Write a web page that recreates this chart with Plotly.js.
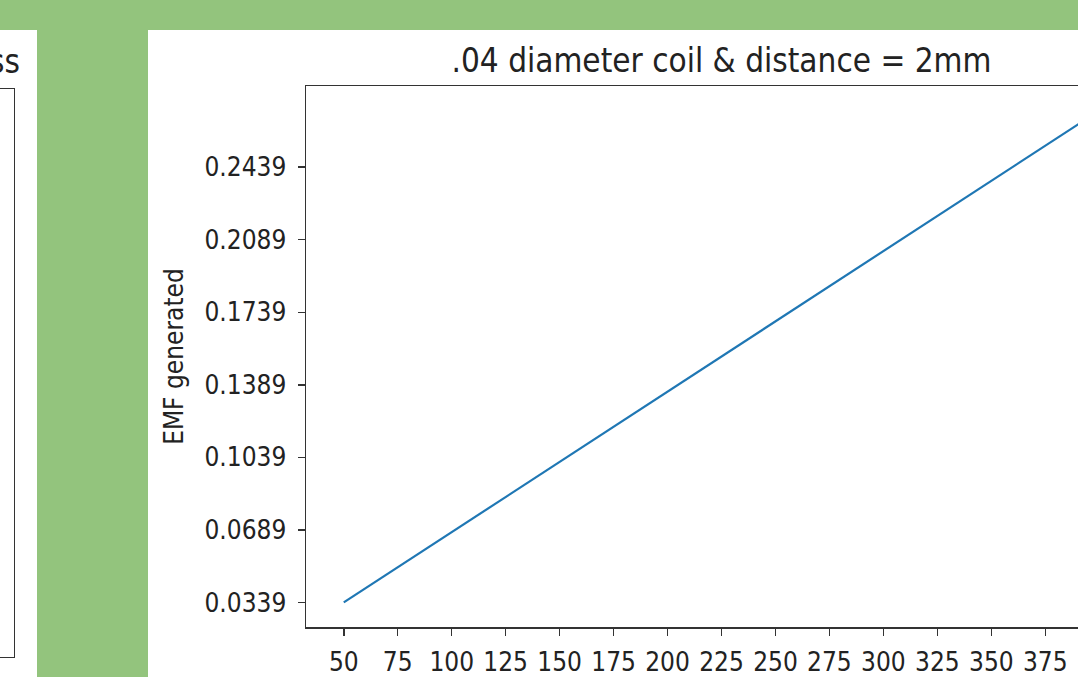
<!DOCTYPE html>
<html>
<head>
<meta charset="utf-8">
<script src="https://cdn.plot.ly/plotly-3.0.1.min.js"></script>
<style>
  html, body { margin: 0; padding: 0; width: 1078px; height: 677px; overflow: hidden; background: #93C47D; }
  #leftPanel { position: absolute; left: 0; top: 30px; width: 37px; height: 647px; background: #fff; overflow: hidden; }
  #leftTitle { position: absolute; right: 17px; top: 15px; font-family: "DejaVu Sans Condensed", "DejaVu Sans", sans-serif; font-size: 33px; color: #222; white-space: nowrap; line-height: 1; }
  #leftFrame { position: absolute; left: -100px; top: 58px; width: 113px; height: 568px; border: 1.5px solid #333; }
  #rightPanel { position: absolute; left: 148px; top: 30px; width: 1000px; height: 647px; background: #fff; }
  #chart { position: absolute; left: 148px; top: 30px; width: 1040px; height: 647px; }
</style>
</head>
<body>
<div id="leftPanel"><div id="leftTitle">ss</div><div id="leftFrame"></div></div>
<div id="rightPanel"></div>
<div id="chart"></div>
<script>
// Number of turns vs EMF generated
const turns = [50, 100, 150, 200, 250, 300, 350, 400];
const emf = [0.0339, 0.0678, 0.1017, 0.1356, 0.1695, 0.2034, 0.2373, 0.2712];
const xTicks = [50, 75, 100, 125, 150, 175, 200, 225, 250, 275, 300, 325, 350, 375];
const yTicks = [0.0339, 0.0689, 0.1039, 0.1389, 0.1739, 0.2089, 0.2439];
const yTickText = ["0.0339", "0.0689", "0.1039", "0.1389", "0.1739", "0.2089", "0.2439"];
const chartTitle = ".04 diameter coil & distance = 2mm";
const yLabel = "EMF generated";

const FONT = '"DejaVu Sans Condensed", "DejaVu Sans", sans-serif';
const xSpan = turns[turns.length - 1] - turns[0];
const ySpan = emf[emf.length - 1] - emf[0];

const trace = {
  x: turns, y: emf, type: 'scatter', mode: 'lines',
  line: { color: '#1f77b4', width: 2.2 }, hoverinfo: 'skip'
};

const layout = {
  width: 1040, height: 647,
  margin: { l: 157.5, r: 51, t: 56, b: 50 },
  paper_bgcolor: 'rgba(0,0,0,0)', plot_bgcolor: '#ffffff',
  showlegend: false,
  font: { family: FONT, color: '#222', size: 26 },
  title: {
    text: chartTitle, font: { family: FONT, size: 33, color: '#222' },
    x: 0.5, xref: 'paper', xanchor: 'center',
    y: 1, yref: 'paper', yanchor: 'bottom', pad: { b: 14 }
  },
  xaxis: {
    range: [turns[0] - 0.05 * xSpan, turns[turns.length - 1] + 0.05 * xSpan],
    tickmode: 'array', tickvals: xTicks, ticktext: xTicks.map(String),
    ticks: 'outside', ticklen: 7, tickwidth: 1.5, tickcolor: '#333',
    showline: true, linecolor: '#333', linewidth: 1.5, mirror: true,
    showgrid: false, zeroline: false,
    tickfont: { family: FONT, size: 26, color: '#222' },
    ticklabelstandoff: 4
  },
  yaxis: {
    range: [emf[0] - 0.05 * ySpan, emf[emf.length - 1] + 0.05 * ySpan],
    tickmode: 'array', tickvals: yTicks, ticktext: yTickText,
    ticks: 'outside', ticklen: 7, tickwidth: 1.5, tickcolor: '#333',
    showline: true, linecolor: '#333', linewidth: 1.5, mirror: true,
    showgrid: false, zeroline: false,
    tickfont: { family: FONT, size: 26, color: '#222' },
    ticklabelstandoff: 6,
    title: { text: yLabel, font: { family: FONT, size: 26, color: '#222' }, standoff: 13 }
  }
};

Plotly.newPlot('chart', [trace], layout, { staticPlot: true, displayModeBar: false });
</script>
</body>
</html>
